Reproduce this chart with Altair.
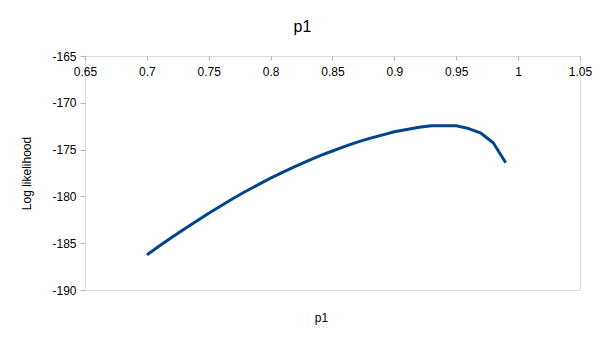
import altair as alt
import pandas as pd

p_values = [0.70, 0.71, 0.72, 0.73, 0.74, 0.75, 0.76, 0.77, 0.78, 0.79,
            0.80, 0.81, 0.82, 0.83, 0.84, 0.85, 0.86, 0.87, 0.88, 0.89,
            0.90, 0.91, 0.92, 0.93, 0.94, 0.95, 0.96, 0.97, 0.98, 0.99]
loglik = [-186.25, -185.3, -184.4, -183.5, -182.65, -181.8, -181.0, -180.2, -179.45, -178.75,
          -178.05, -177.4, -176.8, -176.2, -175.65, -175.15, -174.65, -174.2, -173.8, -173.45,
          -173.1, -172.85, -172.62, -172.45, -172.45, -172.45, -172.75, -173.25, -174.3, -176.4]
x_ticks = [0.65, 0.7, 0.75, 0.8, 0.85, 0.9, 0.95, 1, 1.05]
y_ticks = [-190, -185, -180, -175, -170, -165]

df = pd.DataFrame({"p1": p_values, "ll": loglik})

W, H = 495, 234
FONT = "Liberation Sans"

chart = alt.Chart(df).mark_line(color="#004586", strokeWidth=3, strokeJoin="round").encode(
    x=alt.X("p1:Q",
            scale=alt.Scale(domain=[0.65, 1.05], nice=False, zero=False),
            axis=alt.Axis(orient="bottom", offset=-H, values=x_ticks,
                          labelExpr="'' + datum.value", grid=False,
                          domain=False, tickColor="#b3b3b3", tickSize=4,
                          labelPadding=6, labelFont=FONT, labelFontSize=12,
                          labelColor="#000000", labelFlush=False,
                          title="p1", titleFont=FONT, titleFontSize=12,
                          titleFontWeight="normal", titleColor="#000000",
                          titleX=236, titleY=H + 27, titleBaseline="middle",
                          titleAnchor="start", titleAlign="center")),
    y=alt.Y("ll:Q",
            scale=alt.Scale(domain=[-190, -165], nice=False, zero=False),
            axis=alt.Axis(values=y_ticks, labelExpr="'' + datum.value", grid=False,
                          domain=False, tickColor="#b3b3b3", tickSize=5,
                          labelPadding=4, labelFont=FONT, labelFontSize=12,
                          labelColor="#000000",
                          title="Log likelihood", titleFont=FONT, titleFontSize=12,
                          titleFontWeight="normal", titleColor="#000000",
                          titleX=-59, titleY=H / 2, titleAnchor="start",
                          titleAlign="center", titleBaseline="middle")),
).properties(
    width=W, height=H,
    title=alt.TitleParams("p1", font=FONT, fontSize=16, fontWeight="normal",
                          color="#000000", anchor="middle", dx=-30,
                          offset=2, baseline="alphabetic"),
    autosize=alt.AutoSizeParams(type="none"),
    padding={"left": 85, "top": 56, "right": 25, "bottom": 51},
).configure_view(stroke="#b3b3b3", strokeWidth=1).configure(background="white")

chart.save("out.html", embed_options={"renderer": "svg", "actions": False})
